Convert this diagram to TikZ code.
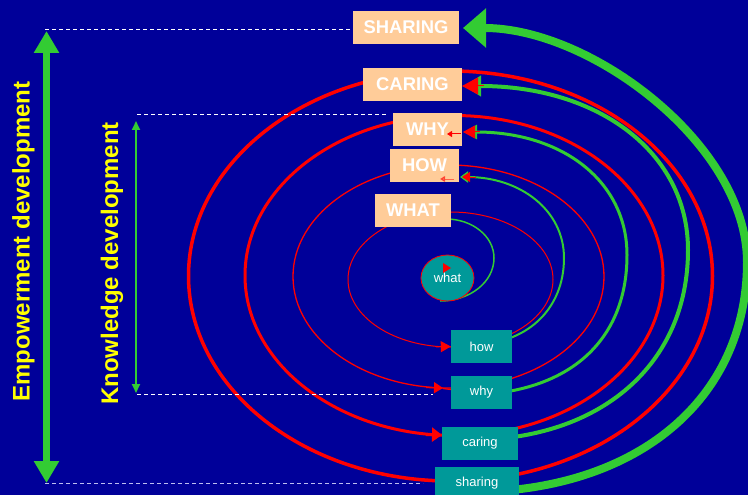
\documentclass[tikz,border=0pt]{standalone}
\usepackage{fontspec}
\setmainfont{Liberation Sans}
\usetikzlibrary{arrows.meta,shapes.geometric}
\definecolor{bgblue}{RGB}{0,0,153}
\definecolor{peach}{RGB}{255,204,153}
\definecolor{tealbox}{RGB}{0,153,153}
\definecolor{lgreen}{RGB}{51,204,51}
\definecolor{lavender}{RGB}{190,190,240}
\definecolor{ylw}{RGB}{255,255,0}

\begin{document}
\begin{tikzpicture}[x=1pt,y=-1pt,
  capbox/.style={rectangle, fill=peach, text=white, inner sep=0pt,
    minimum height=33pt, font=\fontsize{18.4}{20}\selectfont\bfseries},
  lowbox/.style={rectangle, fill=tealbox, text=white, inner sep=0pt,
    minimum height=33pt, font=\fontsize{13}{15}\selectfont},
  ring/.style={red},
  loop/.style={lgreen},
  guide/.style={white, line width=1pt, dash pattern=on 4pt off 3pt},
  sidelabel/.style={text=ylw, rotate=90, anchor=base,
    font=\fontsize{24}{28}\selectfont\bfseries},
]
% background
\path[use as bounding box, fill=bgblue] (0,0) rectangle (748,495);

% red rings
\draw[ring, line width=1pt]   (450.5,279.5) ellipse [x radius=102.5pt, y radius=67.5pt];
\draw[ring, line width=1.3pt] (448.5,276.5) ellipse [x radius=155.5pt, y radius=111.5pt];
\draw[ring, line width=3pt]   (454,275.5)   ellipse [x radius=209pt, y radius=160pt];
\draw[ring, line width=3.5pt] (450.5,276)   ellipse [x radius=262pt, y radius=205pt];

% green return loops: from under each lower box round the right side up to the upper box
\coordinate (g1s) at (440,301);  \coordinate (g1e) at (446,219);
\coordinate (g2s) at (470,345);  \coordinate (g2e) at (460,177);
\coordinate (g3s) at (465,395);  \coordinate (g3e) at (465,132);
\coordinate (g4s) at (470,440);  \coordinate (g4e) at (464,86);
\coordinate (g5s) at (470,492);  \coordinate (g5e) at (463,28);

\draw[loop, line width=1.5pt] (g1s)
  .. controls (470,301) and (494,282) .. (494,258)
  .. controls (494,236) and (472,219) .. (g1e);
\draw[loop, line width=2pt, -{Triangle[length=8pt,width=11pt]}] (g2s)
  .. controls (526,345) and (564,310) .. (564,258)
  .. controls (564,210) and (520,177) .. (g2e);
\draw[loop, line width=3pt, -{Triangle[length=12pt,width=14pt]}] (g3s)
  .. controls (565,395) and (627,344) .. (627,255)
  .. controls (627,181) and (562,132) .. (g3e);
\draw[loop, line width=4pt, -{Triangle[length=17pt,width=20pt]}] (g4s)
  .. controls (601,440) and (688,364) .. (688,250)
  .. controls (688,152) and (598,86) .. (g4e);
\draw[loop, line width=8pt, -{Triangle[length=23pt,width=38pt]}] (g5s)
  .. controls (636,492) and (747,400) .. (747,262)
  .. controls (747,145) and (591,28) .. (g5e);

% guide lines
\coordinate (eTop) at (46.5,31);
\coordinate (eBot) at (46.5,483);
\coordinate (kTop) at (136,121);
\coordinate (kBot) at (136,393);
\draw[guide] (45,30) -- (353,30);
\draw[guide] (137,115) -- (386,115);
\draw[guide] (137,394) -- (433,394);
\draw[guide, lavender] (45,483) -- (423,483);

% upper boxes
\node[capbox, minimum width=106pt] (SHARING) at (406,27.5) {SHARING};
\node[capbox, minimum width=99pt]  (CARING)  at (412.5,84.5) {CARING};
\node[capbox, minimum width=69pt]  (WHY)     at (427.5,129.5) {WHY};
\node[capbox, minimum width=69pt]  (HOW)     at (424.5,165.5) {HOW};
\node[capbox, minimum width=76pt]  (WHAT)    at (413,210.5) {WHAT};

% lower boxes
\node[lowbox, minimum width=61pt] (how)     at (481.5,346.5) {how};
\node[lowbox, minimum width=61pt] (why)     at (481.5,392.5) {why};
\node[lowbox, minimum width=76pt] (caring)  at (480,443.5) {caring};
\node[lowbox, minimum width=84pt] (sharing) at (477,483.5) {sharing};
\node[ellipse, draw=red, line width=0.8pt, fill=tealbox, text=white, inner sep=0pt,
  minimum width=53pt, minimum height=46pt, font=\fontsize{13}{15}\selectfont]
  (what) at (447.5,278) {what};

% red arrowheads on the rings
\draw[red, line width=1pt, -{Triangle[length=10pt,width=11pt]}] (436,346.8) -- (how.west);
\draw[red, line width=1.3pt, -{Triangle[length=9pt,width=11pt]}] (426,387.5) -- (443,388);
\draw[red, line width=1.3pt] (443,388.5) -- (why.west |- 0,389.5);
\draw[red, line width=3pt, -{Triangle[length=10pt,width=14pt]}] (426,434.5) -- (442,435);
\fill[red] (451,268) -- (443,263) -- (443,273) -- cycle;

% red arrowheads at the upper boxes
\draw[red, line width=1pt, -{Triangle[length=16pt,width=17pt]}] (484,86) -- (462,86);
\draw[red, line width=1pt, -{Triangle[length=12pt,width=13pt]}] (480,132) -- (463,132);
\draw[red, line width=1pt, -{Triangle[length=8pt,width=10pt]}] (476,177) -- (462,177);
\draw[red, line width=1pt, -{Triangle[length=5pt,width=6pt]}] (461,134) -- (447,134);
\draw[red, opacity=0.5, line width=1pt, -{Triangle[length=5pt,width=6pt]}] (454,179) -- (440,179);

% development scales
\draw[lgreen, line width=6.5pt, {Triangle[length=22pt,width=24pt]}-{Triangle[length=22pt,width=24pt]}] (eTop) -- (eBot);
\draw[lgreen, line width=2pt, {Triangle[length=9pt,width=8pt]}-{Triangle[length=9pt,width=8pt]}] (kTop) -- (kBot);
\node[sidelabel] (emp) at (29.5,241.5) {Empowerment development};
\node[sidelabel] (know) at (118,263.5) {Knowledge development};
\end{tikzpicture}
\end{document}
